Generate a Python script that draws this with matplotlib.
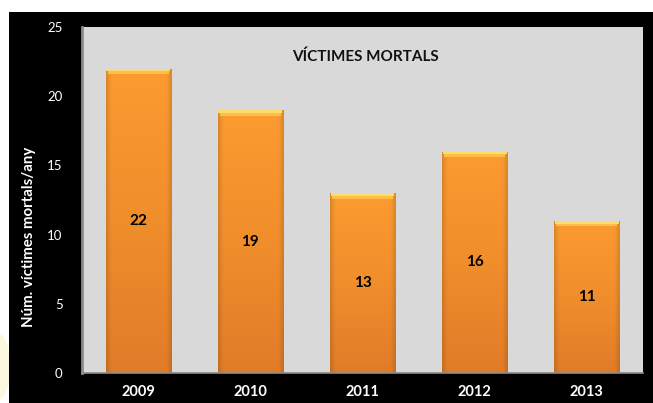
import matplotlib
matplotlib.use("Agg")
import matplotlib.pyplot as plt
import numpy as np
from matplotlib.colors import LinearSegmentedColormap
from matplotlib.patches import Rectangle, Ellipse

years = ["2009", "2010", "2011", "2012", "2013"]
victims = [22, 19, 13, 16, 11]
yticks = [0, 5, 10, 15, 20, 25]
title = "VÍCTIMES MORTALS"
ylabel = "Núm. víctimes mortals/any"

plt.rcParams['font.family'] = ['Lato', 'DejaVu Sans']

fig = plt.figure(figsize=(6.53, 4.03), dpi=100)
fig.patch.set_facecolor('white')
# faint cream glow at bottom-left
fig.patches.append(Ellipse((0.0, 0.09), 0.03, 0.16, transform=fig.transFigure,
                           facecolor='#fbf3c8', edgecolor='none', alpha=0.6, zorder=0))
# black chart background
fig.patches.append(Rectangle((9/653, 0), 1 - 9/653, (403-12)/403, transform=fig.transFigure,
                             facecolor='black', edgecolor='none', zorder=0.5))

ax = fig.add_axes([82/653, 30/403, (643-82)/653, (373-27)/403])
ax.set_zorder(2)
ax.set_facecolor('#d9d9d9')
ax.set_ylim(0, 25)
ax.set_xlim(-0.5, len(years) - 0.5)

x = np.arange(len(years))
width = 0.58
bars = ax.bar(x, victims, width=width, color='none', edgecolor='none', zorder=2)

# gradient fill for bars
cmap_v = LinearSegmentedColormap.from_list('v', ['#e07c28', '#f08e2c', '#fb9b30'])
ny, nx = 200, 60
vy = np.linspace(0, 1, ny)[:, None]
hx = np.linspace(-1, 1, nx)[None, :]
edge = np.clip((np.abs(hx) - 0.85) / 0.15, 0, 1)
base = cmap_v(vy * np.ones_like(hx))
shade = base.copy()
shade[..., :3] = base[..., :3] * (1 - 0.12 * edge[..., None])
for b in bars:
    x0, w, h = b.get_x(), b.get_width(), b.get_height()
    im = ax.imshow(shade, extent=(x0, x0 + w, 0, h), origin='lower', aspect='auto',
                   zorder=2, interpolation='bilinear')
    im.set_clip_path(b)
    # light top cap
    cap_h = 0.4
    ax.add_patch(Rectangle((x0 + w*0.03, h - cap_h), w*0.94, cap_h*0.5,
                           facecolor='#fdbf45', edgecolor='none', zorder=3))
    ax.add_patch(Rectangle((x0 + w*0.01, h - cap_h*0.5), w*0.98, cap_h*0.5,
                           facecolor='#fbdc70', edgecolor='none', zorder=3))
    ax.text(b.get_x() + w/2, h/2, f"{int(h)}", ha='center', va='center',
            fontsize=11, fontweight='bold', color='black', zorder=4)

ax.set_xticks(x)
ax.set_xticklabels(years, fontsize=10.5, fontweight='bold', color='white')
ax.set_yticks(yticks)
ax.set_yticklabels([str(v) for v in yticks], fontsize=9.5, color='white')
ax.tick_params(axis='both', length=0)
ax.tick_params(axis='y', pad=14)
ax.tick_params(axis='x', pad=9)

for s in ['top', 'right']:
    ax.spines[s].set_visible(False)
ax.spines['left'].set_color('#8c8c8c')
ax.spines['left'].set_linewidth(2)
ax.spines['bottom'].set_color('#8c8c8c')
ax.spines['bottom'].set_linewidth(1.2)

ax.text(0.506, 0.913, title, transform=ax.transAxes, ha='center', va='center',
        fontsize=11, fontweight='bold', color='#111111')

fig.text(29/653, (403-237)/403, ylabel, rotation=90, ha='center', va='center',
         fontsize=10.8, fontweight='bold', color='white')

fig.savefig('out.png', dpi=100, facecolor=fig.get_facecolor())
